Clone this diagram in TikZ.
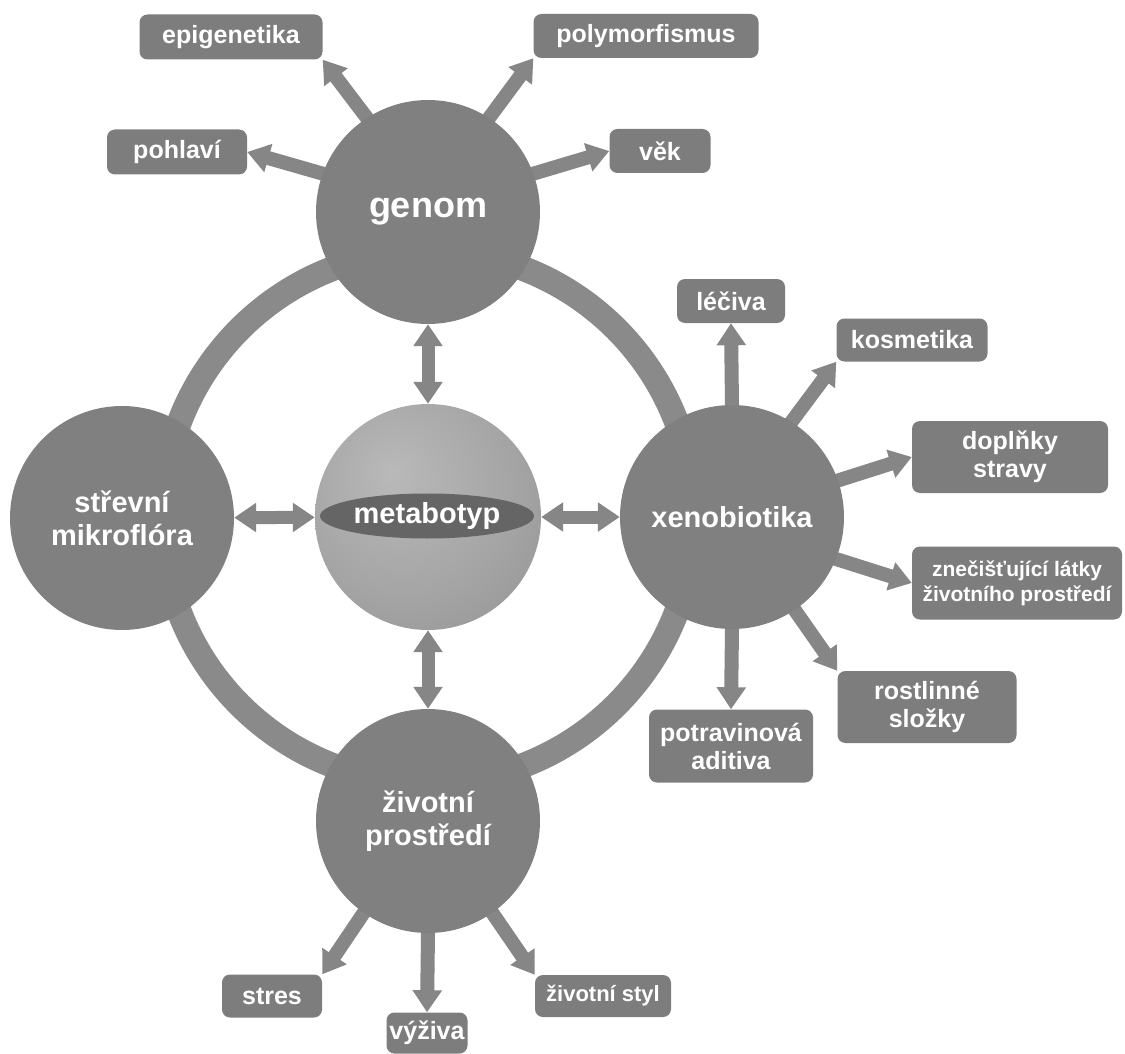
\documentclass[tikz,border=0pt]{standalone}
\usepackage{fontspec}
\setmainfont{Liberation Sans}
\usetikzlibrary{arrows.meta,shapes.geometric,backgrounds}
\definecolor{cfill}{HTML}{808080}
\definecolor{bfill}{HTML}{7D7D7D}
\definecolor{ringc}{HTML}{8A8A8A}
\definecolor{arrc}{HTML}{868686}
\definecolor{ellc}{HTML}{656565}
\definecolor{sA}{HTML}{B9B9B9}
\definecolor{sB}{HTML}{A4A4A4}
\definecolor{sC}{HTML}{8A8A8A}
\pgfdeclareradialshading{sph}{\pgfpoint{-8bp}{10bp}}{color(0bp)=(sA); color(25bp)=(sB); color(50bp)=(sC); color(75bp)=(sC)}
\begin{document}
\begin{tikzpicture}[x=1pt,y=-1pt,
  bigc/.style={circle, fill=cfill, minimum size=224pt, inner sep=0pt, text=white,
    font=\bfseries\fontsize{29}{33}\selectfont, align=center},
  box/.style={rounded corners=8pt, fill=bfill, text=white, inner sep=0pt,
    font=\bfseries\fontsize{25}{28}\selectfont, align=center},
  arr/.style={draw=arrc, line width=14pt, shorten <=-6pt, -{Triangle[width=28pt,length=22pt]}},
  dbl/.style={draw=arrc, line width=13pt, {Triangle[width=28pt,length=22pt]}-{Triangle[width=28pt,length=22pt]}}]
\useasboundingbox (0,0) rectangle (1125,1054);

% central circles
\node[bigc] (genom) at (428,212) {\fontsize{36}{40}\selectfont genom};
\node[bigc] (strev) at (122,518) {střevní\\mikroflóra};
\node[bigc] (xeno) at (732,517) {xenobiotika};
\node[bigc] (ziv) at (428,821) {životní\\prostředí};
\node[circle, minimum size=226pt, inner sep=0pt, shading=sph] (meta) at (428,517) {};
\node[ellipse, fill=ellc, minimum width=214pt, minimum height=45pt, inner sep=0pt,
  text=white, font=\bfseries\fontsize{29}{33}\selectfont] (ell) at (427,516) {metabotyp};

% boxes
\node[box, minimum width=183pt, minimum height=45pt] (epi) at (231,37) {epigenetika};
\node[box, minimum width=140pt, minimum height=45pt] (poh) at (177,152) {pohlaví};
\node[box, minimum width=225pt, minimum height=44pt] (poly) at (646,36) {polymorfismus};
\node[box, minimum width=101pt, minimum height=44pt] (vek) at (660,151) {věk};
\node[box, minimum width=108pt, minimum height=44pt] (lec) at (731,301) {léčiva};
\node[box, minimum width=151pt, minimum height=43pt] (kos) at (912,340) {kosmetika};
\node[box, minimum width=196pt, minimum height=72pt] (dop) at (1010,457) {doplňky\\stravy};
\node[box, minimum width=210pt, minimum height=73pt, font=\bfseries\fontsize{21}{25}\selectfont] (zne) at (1017,583) {znečišťující látky\\životního prostředí};
\node[box, minimum width=179pt, minimum height=72pt] (rost) at (927,707) {rostlinné\\složky};
\node[box, minimum width=164pt, minimum height=73pt] (potr) at (731,746) {potravinová\\aditiva};
\node[box, minimum width=100pt, minimum height=43pt] (stres) at (272,996) {stres};
\node[box, minimum width=81pt, minimum height=41pt] (vyz) at (427,1033) {výživa};
\node[box, minimum width=136pt, minimum height=42pt, font=\bfseries\fontsize{22}{26}\selectfont] (styl) at (603,996) {životní styl};

\begin{scope}[on background layer]
  \fill[white] (0,0) rectangle (1125,1054);
  % ring
  \draw[ringc, line width=25pt] (428,517) circle[radius=266];
  % genom arrows
  \draw[arr] (genom.123) -- (epi.south east);
  \draw[arr] (genom.160) -- (poh.east);
  \draw[arr] (genom.57) -- (poly.south west);
  \draw[arr] (genom.20) -- (vek.west);
  % xeno arrows
  \draw[arr] (xeno.north) -- (lec.south);
  \draw[arr] (xeno.58) -- (kos.south west);
  \draw[arr] (xeno.19) -- (dop.west);
  \draw[arr] (xeno.-22) -- (zne.west);
  \draw[arr] (xeno.-56) -- (rost.north west);
  \draw[arr] (xeno.south) -- (potr.north);
  % ziv arrows
  \draw[arr] (ziv.235) -- (stres.north east);
  \draw[arr] (ziv.south) -- (vyz.north);
  \draw[arr] (ziv.-55) -- (styl.north west);
\end{scope}

% double arrows
\draw[dbl] (genom) -- (meta);
\draw[dbl] (strev) -- (meta);
\draw[dbl] (xeno) -- (meta);
\draw[dbl] (ziv) -- (meta);
\end{tikzpicture}
\end{document}
